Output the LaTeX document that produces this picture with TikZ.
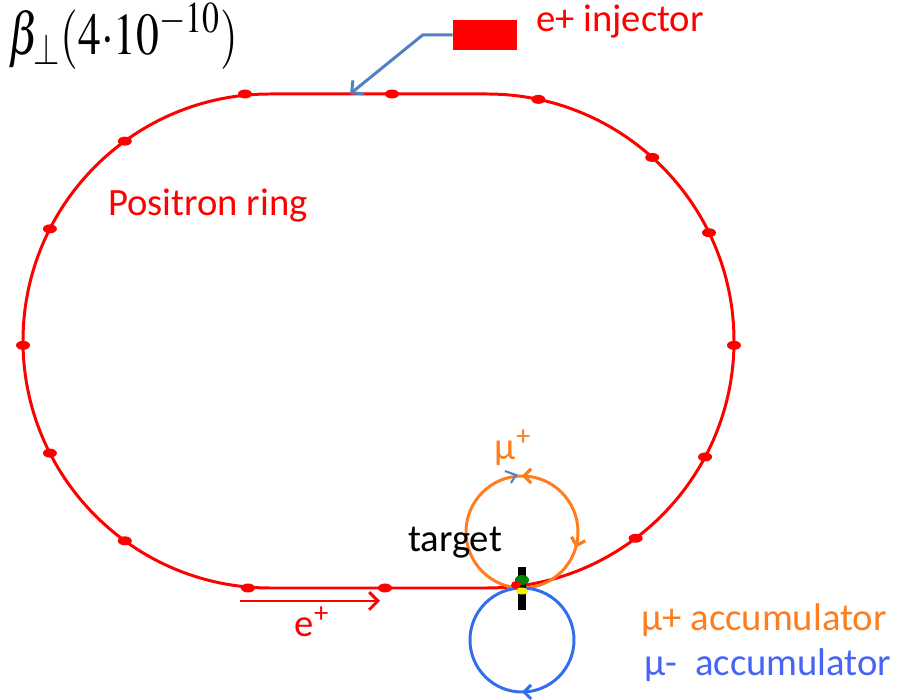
\documentclass[tikz,border=0pt]{standalone}
\usepackage{mathptmx}
\usepackage{fontspec}
\setmainfont{Carlito}
\usetikzlibrary{arrows.meta, positioning, calc, decorations.markings}
\definecolor{ringred}{RGB}{255,0,0}
\definecolor{muorange}{RGB}{255,125,30}
\definecolor{mublue}{RGB}{50,110,235}
\definecolor{txtblue}{RGB}{70,100,245}
\definecolor{linkblue}{RGB}{80,130,195}
\definecolor{tgtgreen}{RGB}{0,130,0}
\definecolor{tgtyellow}{RGB}{240,240,0}
\tikzset{
  lbl/.style={font=\fontsize{22}{26}\selectfont, inner sep=0pt},
  ring/.style={draw=ringred, line width=1.7pt},
  magnet/.style={fill=ringred},
  acc/.style={line width=1.7pt},
  barb/.style={-{Straight Barb[length=5pt,width=10pt]}, line width=1.7pt},
  tipat/.style={postaction={decorate}, decoration={markings,
    mark=at position #1 with {\arrow{Straight Barb[length=4pt,width=8pt]}}}},
  tiprev/.style={postaction={decorate}, decoration={markings,
    mark=at position #1 with {\arrowreversed{Straight Barb[length=4pt,width=8pt]}}}}
}

\begin{document}
\begin{tikzpicture}[x=0.02cm, y=0.02cm]
  \useasboundingbox (0,0) rectangle (904,700);
  % positron ring (stadium)
  \coordinate (lc) at (270,359);
  \coordinate (rc) at (487,359);
  \draw[ring] (270,606) -- (487,606) arc[start angle=90, end angle=-90, radius=247]
    -- (270,112) arc[start angle=270, end angle=90, radius=247] -- cycle;
  % magnets
  \foreach \a in {126,153,181,207,234}
    \fill[magnet] ($(lc)+(\a:247)$) ellipse (7 and 4.5);
  \foreach \a in {78,48,26,-1,-28,-53}
    \fill[magnet] ($(rc)+(\a:247)$) ellipse (7 and 4.5);
  \foreach \x in {245,392}
    \fill[magnet] (\x,606) ellipse (7 and 4.5);
  \foreach \x in {248,385}
    \fill[magnet] (\x,112) ellipse (7 and 4.5);
  \node[lbl, text=ringred] (ringlbl) at (208,494) {Positron ring};
  % injector
  \node[fill=ringred, minimum width=1.28cm, minimum height=0.6cm, inner sep=0pt] (inj) at (485,665) {};
  \node[lbl, text=ringred] (injlbl) at (620,678) {e+ injector};
  \coordinate (injpt) at (350,606);
  \draw[barb, linkblue] (inj.west) -- ++(-30,0) -- (injpt);
  % formula
  \node[anchor=west, inner sep=0pt, font=\fontsize{26}{30}\selectfont] (beta) at (8,664)
    {\scalebox{1}[1.3]{$\beta_\perp(4{\cdot}10^{-10})$}};
  % e+ direction
  \coordinate (ea) at (240,99);
  \coordinate (eb) at (380,99);
  \draw[barb, ringred] (ea) -- (eb);
  \node[lbl, text=ringred] (elbl) at (312,78) {e\textsuperscript{+}};
  % muon accumulators
  \coordinate (mup) at (522,168);
  \coordinate (mum) at (522,60);
  \draw[acc, muorange, tipat=0.25, tiprev=0.955] (mup) circle (56);
  \draw[acc, mublue, tiprev=0.75] (mum) circle (52);
  \draw[linkblue, line width=1.2pt] (505,229) -- (516,225) -- (511,217);
  \node[lbl, text=muorange] (muplbl) at (513,252) {μ\textsuperscript{+}};
  % target
  \node[fill=black, minimum width=0.16cm, minimum height=0.86cm, inner sep=0pt] (tgt) at (522,111) {};
  \fill[tgtgreen] (522,120) ellipse (7 and 5);
  \fill[ringred] (516,115) ellipse (5 and 4);
  \fill[tgtyellow] (522,109) ellipse (6 and 3.5);
  \node[lbl] (tgtlbl) at (455,157) {target};
  % legend
  \node[lbl, text=muorange] (accp) at (764,80) {μ+ accumulator};
  \node[lbl, text=txtblue] (accm) at (768,35) {μ-\ \ accumulator};
\end{tikzpicture}
\end{document}
